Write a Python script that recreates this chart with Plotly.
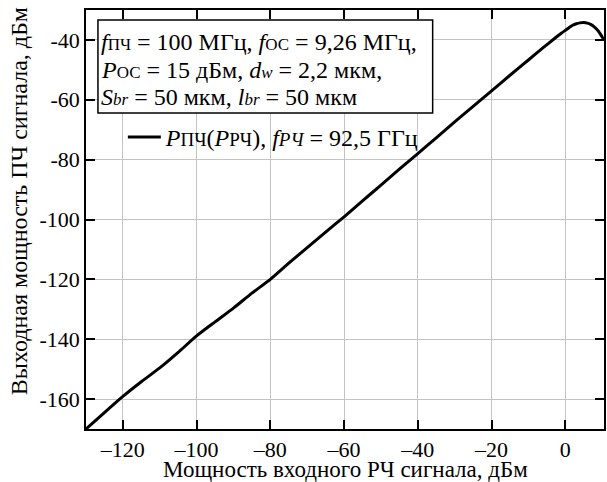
import plotly.graph_objects as go

# Data
p_rf = [-130, -125, -120, -115, -110, -105, -100, -95, -90, -85, -80, -75, -70,
        -65, -60, -55, -50, -45, -40, -35, -30, -25, -20, -15, -10, -6, -3, -1,
        0, 1, 2, 3, 4, 5, 6, 7, 8, 9, 10, 10.5]
p_if = [-170, -164.5, -159.1, -154.2, -149.6, -144.4, -138.9, -134.2, -129.6,
        -124.6, -120.0, -114.6, -109.4, -104.2, -99.1, -93.8, -88.5, -83.2,
        -78.0, -72.7, -67.4, -62.2, -57.0, -51.8, -46.7, -42.6, -39.6, -37.7,
        -36.8, -35.9, -35.1, -34.6, -34.3, -34.2, -34.4, -34.9, -35.8, -37.1,
        -39.0, -40.0]

x_tickvals = [-120, -100, -80, -60, -40, -20, 0]
x_ticktext = ["\u2013120", "\u2013100", "\u201380", "\u201360", "\u201340", "\u201320", "0"]
y_tickvals = [-160, -140, -120, -100, -80, -60, -40]
y_ticktext = ["-160", "-140", "-120", "-100", "-80", "-60", "-40"]

x_title = "Мощность входного РЧ сигнала, дБм"
y_title = "Выходная мощность ПЧ сигнала, дБм"

S = "<span style='font-size:17px'>"
S2 = "<span style='font-size:19px'>"
E = "</span>"
info_lines = [
    f"<i>f</i>{S}ПЧ{E} = 100 МГц, <i>f</i>{S}ОС{E} = 9,26 МГц,",
    f"<i>P</i>{S}ОС{E} = 15 дБм, <i>d</i>{S}<i>w</i>{E} = 2,2 мкм,",
    f"<i>S</i>{S}<i>br</i>{E} = 50 мкм, <i>l</i>{S}<i>br</i>{E} = 50 мкм",
]
series_name = f"<i>P</i>{S2}ПЧ{E}(<i>P</i>{S2}РЧ{E}), <i>f</i>{S2}<i>РЧ</i>{E} = 92,5 ГГц"

FONT = "Liberation Serif, Times New Roman, serif"
W, H = 607, 482
L, R, T, B = 86, 1, 10, 53
pw, ph = W - L - R, H - T - B

def px(xp):
    return (xp - L) / pw

def py(yp):
    return (H - B - yp) / ph

fig = go.Figure()
fig.add_trace(go.Scatter(x=p_rf, y=p_if, mode="lines", name=series_name,
                         line=dict(color="black", width=3, shape="spline", smoothing=0.6)))

axis_common = dict(showline=True, linecolor="black", linewidth=1.5, mirror="ticks",
                   ticks="inside", ticklen=9, tickwidth=1.5, tickcolor="black",
                   showgrid=True, gridcolor="#c4c4c4", gridwidth=1, zeroline=False,
                   tickfont=dict(family=FONT, size=22, color="black"))

fig.update_xaxes(range=[-130, 10.5], tickvals=x_tickvals, ticktext=x_ticktext, **axis_common)
fig.update_yaxes(range=[-170, -30], tickvals=y_tickvals, ticktext=y_ticktext, **axis_common)

fig.add_shape(type="rect", xref="paper", yref="paper",
              x0=px(98), x1=px(434), y0=py(113), y1=py(20),
              line=dict(color="black", width=1.5), fillcolor="white", layer="above")

for i, t in enumerate(info_lines):
    fig.add_annotation(text=t, xref="paper", yref="paper", x=px(99), y=py(42 + 27.5 * i),
                       xanchor="left", yanchor="middle", showarrow=False,
                       font=dict(family=FONT, size=24, color="black"))

fig.add_annotation(text=x_title, xref="paper", yref="paper", x=0.5, y=py(469),
                   xanchor="center", yanchor="middle", showarrow=False,
                   font=dict(family=FONT, size=23, color="black"))
fig.add_annotation(text=y_title, xref="paper", yref="paper", x=px(19), y=py(201),
                   xanchor="center", yanchor="middle", showarrow=False, textangle=-90,
                   font=dict(family=FONT, size=24, color="black"))

fig.update_layout(
    width=W, height=H, margin=dict(l=L, r=R, t=T, b=B),
    paper_bgcolor="white", plot_bgcolor="white",
    font=dict(family=FONT, color="black"),
    showlegend=True,
    legend=dict(x=px(123), y=py(115), xanchor="left", yanchor="top",
                bgcolor="rgba(0,0,0,0)", borderwidth=0,
                font=dict(family=FONT, size=24, color="black"), itemwidth=33),
)

fig.write_html("out.html")
